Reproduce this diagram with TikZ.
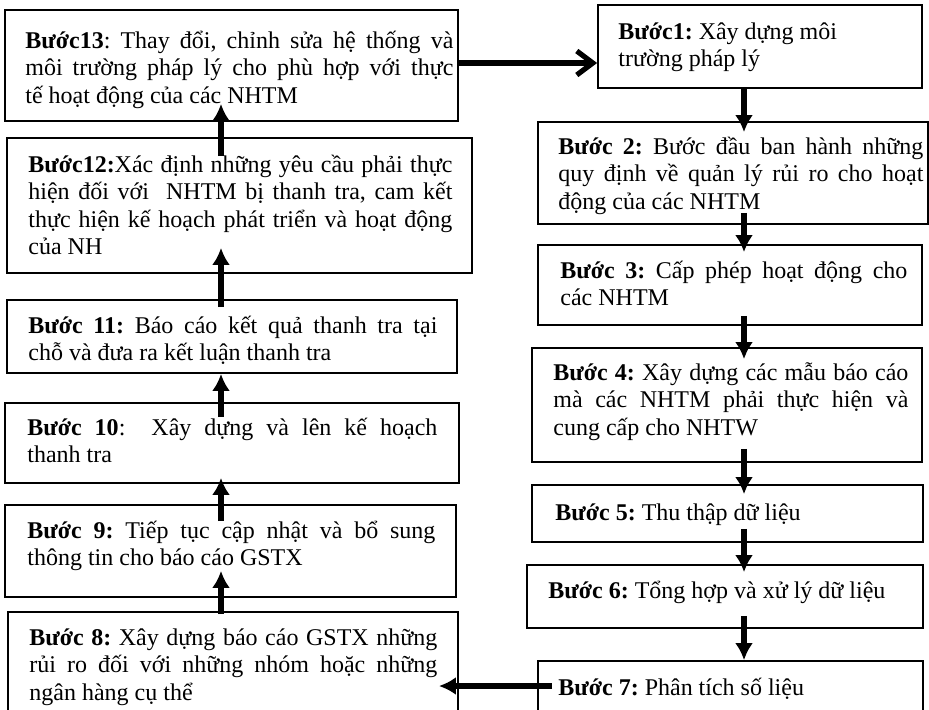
\documentclass[tikz,border=0pt]{standalone}
\usepackage{fontspec}
\setmainfont{Liberation Serif}
\usetikzlibrary{arrows.meta}
\usetikzlibrary{fit}
\frenchspacing
\newcommand{\jline}[2]{{\spaceskip=0pt\xspaceskip=0pt\makebox[#1][s]{#2}}}

\begin{document}
\begin{tikzpicture}[x=0.5pt,y=-0.5pt]
\tikzset{box/.style={draw,line width=0.9pt,inner sep=0pt},
  txt/.style={inner sep=0pt,anchor=base west,font=\fontsize{12}{13.8}\selectfont},
  par/.style={txt,align=justify,text width=#1},
  arr/.style={line width=2.6pt,-{Latex[length=8.5pt,width=9pt]}},
  barb/.style={line width=2.6pt,-{Straight Barb[length=8pt,width=12pt]}}}
\useasboundingbox (0,0) rectangle (929,709);

% left column
\node (s13) [box,fit={(5,10) (458,121)}] {};
\node (s12) [box,fit={(7,138) (472,273)}] {};
\node (s11) [box,fit={(7,300) (457,373)}] {};
\node (s10) [box,fit={(5,403) (459,483)}] {};
\node (s9) [box,fit={(5,505) (456,597)}] {};
\node (s8) [box,fit={(8,612) (458,718)}] {};
% right column
\node (s1) [box,fit={(598,5) (922,88)}] {};
\node (s2) [box,fit={(538,122) (928,224)}] {};
\node (s3) [box,fit={(538,245) (922,325)}] {};
\node (s4) [box,fit={(532,348) (922,462)}] {};
\node (s5) [box,fit={(532,485) (923,542)}] {};
\node (s6) [box,fit={(527,565) (923,628)}] {};
\node (s7) [box,fit={(538,661) (923,718)}] {};

\node (t13) at (25,48) [par=214pt] {\jline{214pt}{\textbf{Bước13}: Thay đổi, chỉnh sửa hệ thống và}\\
  \jline{214pt}{môi trường pháp lý cho phù hợp với thực}\\ tế hoạt động của các NHTM};
\node (t12) at (28,172) [par=212pt] {\jline{212pt}{\textbf{Bước12:}Xác định những yêu cầu phải thực}\\
  \jline{212pt}{hiện đối với \ NHTM bị thanh tra, cam kết}\\
  \jline{212pt}{thực hiện kế hoạch phát triển và hoạt động}\\ của NH};
\node (t11) at (28,333) [par=204.5pt] {\jline{204.5pt}{\textbf{Bước 11:} Báo cáo kết quả thanh tra tại}\\
  chỗ và đưa ra kết luận thanh tra};
\node (t10) at (27,435) [par=205pt] {\jline{205pt}{\textbf{Bước 10}: \ Xây dựng và lên kế hoạch}\\ thanh tra};
\node (t9) at (27,538) [par=204pt] {\jline{204pt}{\textbf{Bước 9:} Tiếp tục cập nhật và bổ sung}\\
  thông tin cho báo cáo GSTX};
\node (t8) at (29,645) [par=204pt] {\jline{204pt}{\textbf{Bước 8:} Xây dựng báo cáo GSTX những}\\
  \jline{204pt}{rủi ro đối với những nhóm hoặc những}\\ ngân hàng cụ thể};

\node (t1) at (618,39) [par=150pt] {\textbf{Bước1:} Xây dựng môi\\ trường pháp lý};
\node (t2) at (558,154) [par=182.5pt] {\jline{182.5pt}{\textbf{Bước 2:} Bước đầu ban hành những}\\
  \jline{182.5pt}{quy định về quản lý rủi ro cho hoạt}\\ động của các NHTM};
\node (t3) at (560,278) [par=173.5pt] {\jline{173.5pt}{\textbf{Bước 3:} Cấp phép hoạt động cho}\\ các NHTM};
\node (t4) at (553,380) [par=177.5pt] {\jline{177.5pt}{\textbf{Bước 4:} Xây dựng các mẫu báo cáo}\\
  \jline{177.5pt}{mà các NHTM phải thực hiện và}\\ cung cấp cho NHTW};
\node (t5) at (555,520) [txt] {\textbf{Bước 5:} Thu thập dữ liệu};
\node (t6) at (548,598) [txt] {\textbf{Bước 6:} Tổng hợp và xử lý dữ liệu};
\node (t7) at (558,695) [txt] {\textbf{Bước 7:} Phân tích số liệu};

\coordinate (lx) at (221,0);
\coordinate (rx) at (744,0);
\coordinate (ty) at (0,63);
\coordinate (by) at (0,686);

\path
(s13.east |- ty) edge [barb] (s1.west |- ty)
(s1.south -| rx) edge [arr,shorten >=-5.5pt] (s2.north -| rx)
(s2.south -| rx) edge [arr,shorten <=-6pt,shorten >=-4pt] (s3.north -| rx)
(s3.south -| rx) edge [arr,shorten <=-5pt,shorten >=-6pt] (s4.north -| rx)
(s4.south -| rx) edge [arr,shorten <=-7pt,shorten >=-5pt] (s5.north -| rx)
(s5.south -| rx) edge [arr,shorten <=-7pt,shorten >=-4pt] (s6.north -| rx)
(s6.south -| rx) edge [arr,shorten <=-6.5pt] (s7.north -| rx)
(s7.west |- by) edge [arr,shorten <=-7.5pt,shorten >=-10pt] (s8.east |- by)
(s8.north -| lx) edge [arr,shorten <=-1.5pt,shorten >=-13.5pt] (s9.south -| lx)
(s9.north -| lx) edge [arr,shorten <=-8.5pt,shorten >=-3pt] (s10.south -| lx)
(s10.north -| lx) edge [arr,shorten <=-7.5pt] (s11.south -| lx)
(s11.north -| lx) edge [arr,shorten <=-4pt,shorten >=-13pt] (s12.south -| lx)
(s12.north -| lx) edge [arr,shorten <=-9.5pt,shorten >=-9pt] (s13.south -| lx);
\end{tikzpicture}
\end{document}
